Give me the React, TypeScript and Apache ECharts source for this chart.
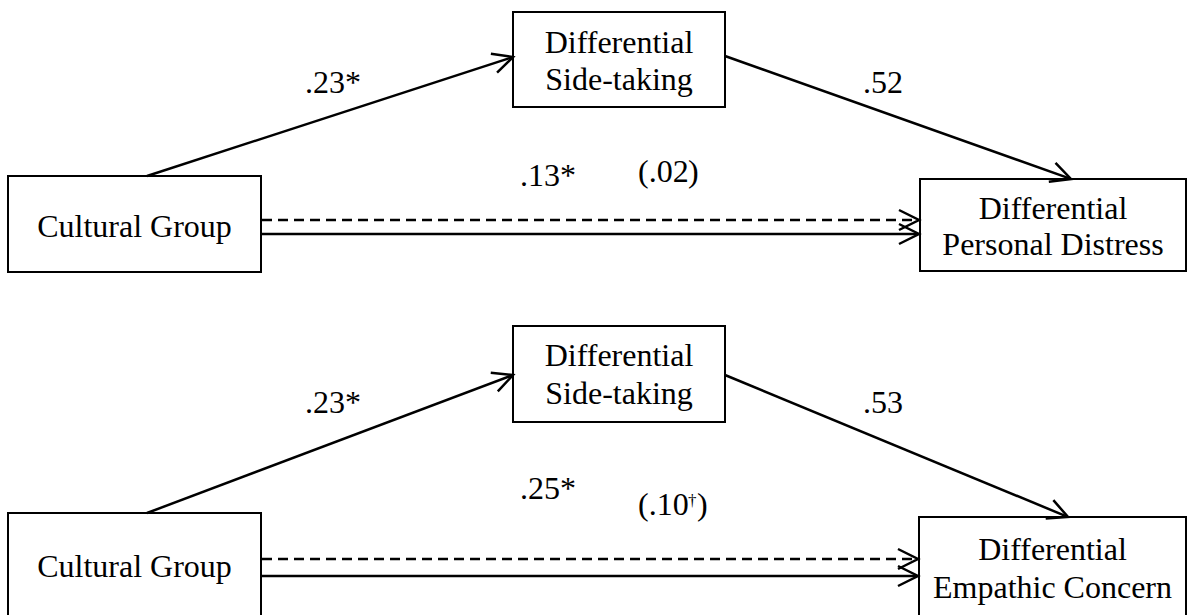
import React, { useEffect, useRef } from "react";
import * as echarts from "echarts";

// ---- data ----
const predictorLabel = ["Cultural Group"];
const mediatorLabel = ["Differential", "Side-taking"];
const outcomeLabels = [
  ["Differential", "Personal Distress"],
  ["Differential", "Empathic Concern"],
];
const aPath = [0.23, 0.23];
const aSig = ["*", "*"];
const bPath = [0.52, 0.53];
const bSig = ["", ""];
const totalEffect = [0.13, 0.25];
const totalSig = ["*", "*"];
const directEffect = [0.02, 0.1];
const directMark = ["", "†"];

const fmt = (v: number) => {
  const s = v.toFixed(2);
  return s.startsWith("0") ? s.slice(1) : s;
};

// ---- layout (positions only) ----
const panels = [
  {
    med: { x: 513, y: 12, w: 212, h: 95, ty: [42, 79] },
    pred: { x: 8, y: 176, w: 253, h: 96, ty: [226] },
    out: { x: 920, y: 179, w: 266, h: 92, ty: [208, 244] },
    dashY: 220,
    solidY: 234,
    aFrom: [147, 176],
    aTo: [513, 57],
    bFrom: [725, 56],
    bTo: [1071, 179],
    aLab: [333, 82],
    bLab: [883, 82],
    cLab: [548, 175],
    dLab: [638, 171],
  },
  {
    med: { x: 513, y: 326, w: 212, h: 96, ty: [355, 393] },
    pred: { x: 8, y: 513, w: 253, h: 112, ty: [566] },
    out: { x: 919, y: 517, w: 267, h: 110, ty: [549, 587] },
    dashY: 559,
    solidY: 576,
    aFrom: [147, 513],
    aTo: [513, 375],
    bFrom: [725, 375],
    bTo: [1068, 517],
    aLab: [333, 402],
    bLab: [883, 402],
    cLab: [548, 488],
    dLab: [638, 504],
  },
];

const FONT = '"Liberation Serif", "Times New Roman", serif';
const FS = 32;

function textEl(text: string, x: number, y: number, align = "center", size = FS) {
  return {
    type: "text",
    x,
    y,
    style: {
      text,
      fill: "#000",
      fontSize: size,
      fontFamily: FONT,
      align,
      verticalAlign: "middle",
    },
    z: 10,
  };
}

function arrowEls(x1: number, y1: number, x2: number, y2: number, dashed: boolean) {
  const L = Math.hypot(x2 - x1, y2 - y1);
  const ux = (x2 - x1) / L;
  const uy = (y2 - y1) / L;
  const px = -uy;
  const py = ux;
  const len = 20;
  const half = 10;
  return [
    {
      type: "line",
      shape: { x1, y1, x2: x2 - ux * 1, y2: y2 - uy * 1 },
      style: { stroke: "#000", lineWidth: 2.5, lineDash: dashed ? [10, 6] : null },
      z: 5,
    },
    {
      type: "polyline",
      shape: {
        points: [
          [x2 - ux * len + px * half, y2 - uy * len + py * half],
          [x2, y2],
          [x2 - ux * len - px * half, y2 - uy * len - py * half],
        ],
      },
      style: { stroke: "#000", lineWidth: 2.5, fill: null },
      z: 6,
    },
  ];
}

function boxEls(b: any, lines: string[]) {
  const els: any[] = [
    {
      type: "rect",
      shape: { x: b.x, y: b.y, width: b.w, height: b.h },
      style: { stroke: "#000", lineWidth: 2, fill: "#fff" },
      z: 4,
    },
  ];
  lines.forEach((t, i) => els.push(textEl(t, b.x + b.w / 2, b.ty[i])));
  return els;
}

function buildElements() {
  const els: any[] = [];
  panels.forEach((p, i) => {
    els.push(...boxEls(p.pred, predictorLabel));
    els.push(...boxEls(p.med, mediatorLabel));
    els.push(...boxEls(p.out, outcomeLabels[i]));
    const x1 = p.pred.x + p.pred.w + 1;
    const x2 = p.out.x - 1;
    els.push(...arrowEls(x1, p.dashY, x2, p.dashY, true));
    els.push(...arrowEls(x1, p.solidY, x2, p.solidY, false));
    els.push(...arrowEls(p.aFrom[0], p.aFrom[1], p.aTo[0], p.aTo[1], false));
    els.push(...arrowEls(p.bFrom[0], p.bFrom[1], p.bTo[0], p.bTo[1], false));
    els.push(textEl(fmt(aPath[i]) + aSig[i], p.aLab[0], p.aLab[1]));
    els.push(textEl(fmt(bPath[i]) + bSig[i], p.bLab[0], p.bLab[1]));
    els.push(textEl(fmt(totalEffect[i]) + totalSig[i], p.cLab[0], p.cLab[1]));
    const base = "(" + fmt(directEffect[i]);
    const baseW = 50;
    els.push(textEl(base, p.dLab[0], p.dLab[1], "left"));
    let cx = p.dLab[0] + baseW;
    if (directMark[i]) {
      els.push(textEl(directMark[i], cx, p.dLab[1] - 4, "left", 17));
      cx += 9;
    }
    els.push(textEl(")", cx, p.dLab[1], "left"));
  });
  return els;
}

export default function App() {
  const ref = useRef<HTMLDivElement>(null);
  useEffect(() => {
    if (!ref.current) return;
    const chart = echarts.init(ref.current, null, { renderer: "svg" });
    chart.setOption({
      animation: false,
      backgroundColor: "#fff",
      graphic: { elements: buildElements() },
    });
    return () => chart.dispose();
  }, []);
  return (
    <div
      ref={ref}
      style={{ position: "fixed", left: 0, top: 0, width: 1192, height: 615, background: "#fff" }}
    />
  );
}
